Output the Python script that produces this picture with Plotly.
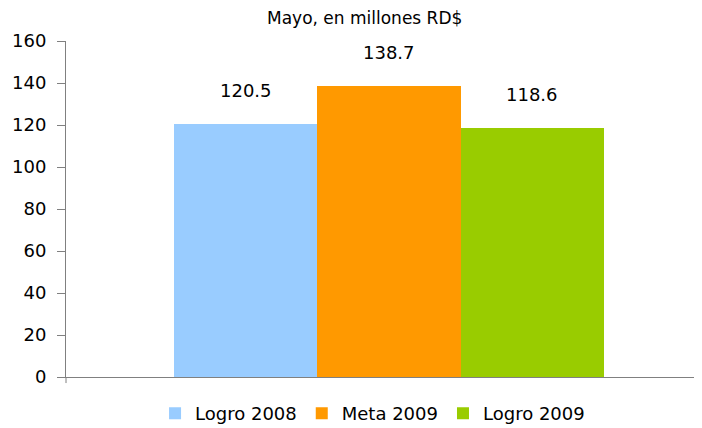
import plotly.graph_objects as go

series = ["Logro 2008", "Meta 2009", "Logro 2009"]
values = [120.5, 138.7, 118.6]
labels = ["120.5", "138.7", "118.6"]
colors = ["#99CCFF", "#FF9900", "#99CC00"]
yticks = [0, 20, 40, 60, 80, 100, 120, 140, 160]

FONT = "DejaVu Sans"
FS = 18

fig = go.Figure()
for name, v, c in zip(series, values, colors):
    fig.add_trace(go.Bar(x=[name], y=[v], name=name, marker=dict(color=c, line=dict(width=0)),
                         hoverinfo="skip"))

for name, v, t in zip(series, values, labels):
    fig.add_annotation(x=name, y=v, text=t, showarrow=False, yshift=33, yanchor="middle",
                       font=dict(family=FONT, size=FS, color="#000000"))

fig.add_annotation(xref="paper", yref="paper", x=0.47, y=1.0, yshift=23, text="Mayo, en millones RD$",
                   showarrow=False, yanchor="middle", font=dict(family=FONT, size=17, color="#000000"))

fig.add_shape(type="line", xref="paper", yref="paper", x0=0, x1=0, y0=0, y1=-0.018,
              line=dict(color="#808080", width=1))

fig.update_layout(
    width=694, height=420,
    margin=dict(l=58, r=0, t=33, b=51, autoexpand=False),
    paper_bgcolor="white", plot_bgcolor="white",
    barmode="overlay", bargap=0,
    showlegend=True,
    legend=dict(orientation="h", x=0.482, xanchor="center", y=-0.054, yanchor="top",
                font=dict(family=FONT, size=FS, color="#000000"), itemwidth=30,
                traceorder="normal"),
    font=dict(family=FONT, color="#000000"),
)
fig.update_xaxes(type="category", range=[-1.254, 3.184], showticklabels=False, ticks="",
                 showline=True, linecolor="#808080", linewidth=1, showgrid=False, zeroline=False,
                 fixedrange=True)
fig.update_yaxes(range=[0, 160], tickvals=yticks, ticks="outside", ticklen=8, tickcolor="#808080",
                 ticklabelstandoff=7,
                 showline=True, linecolor="#808080", linewidth=1, showgrid=False, zeroline=False,
                 tickfont=dict(family=FONT, size=FS, color="#000000"), fixedrange=True)

fig.write_html("out.html")
